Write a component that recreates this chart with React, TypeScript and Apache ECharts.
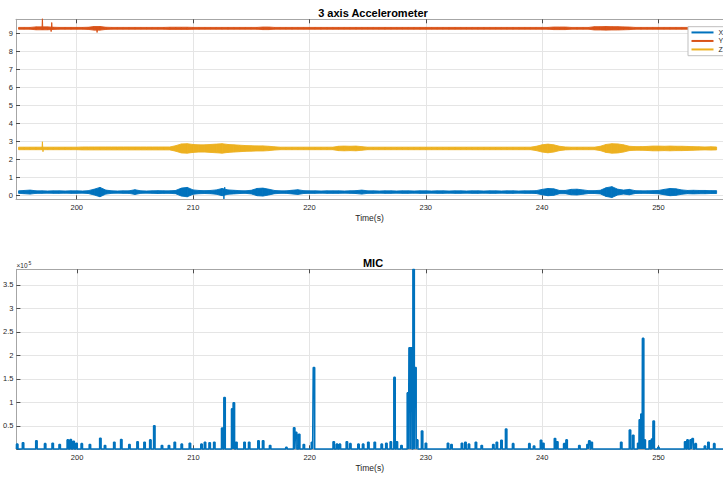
import React, { useEffect, useRef } from "react";
import * as echarts from "echarts";

// ---- data -------------------------------------------------------------
// Accelerometer: noise half-amplitude read every 0.5 s from 195.0 s to 255.0 s
const T0 = 195;
const DT = 0.5;
const X_BASE = 0.2;
const Y_BASE = 9.28;
const Z_BASE = 2.62;

const X_AMP = [
  0.07, 0.09, 0.11, 0.07, 0.07, 0.06, 0.07, 0.07, 0.06, 0.07,
  0.07, 0.06, 0.08, 0.16, 0.26, 0.11, 0.07, 0.06, 0.07, 0.07,
  0.13, 0.07, 0.06, 0.07, 0.08, 0.07, 0.07, 0.09, 0.22, 0.26,
  0.12, 0.09, 0.08, 0.09, 0.12, 0.2, 0.12, 0.1, 0.08, 0.07,
  0.1, 0.2, 0.22, 0.16, 0.09, 0.07, 0.07, 0.1, 0.13, 0.08,
  0.07, 0.07, 0.06, 0.07, 0.07, 0.07, 0.06, 0.07, 0.08, 0.11,
  0.07, 0.07, 0.06, 0.07, 0.07, 0.06, 0.07, 0.07, 0.06, 0.07,
  0.07, 0.06, 0.07, 0.07, 0.06, 0.07, 0.07, 0.06, 0.07, 0.07,
  0.06, 0.07, 0.07, 0.06, 0.07, 0.07, 0.06, 0.07, 0.07, 0.08,
  0.15, 0.2, 0.18, 0.09, 0.09, 0.15, 0.16, 0.12, 0.08, 0.08,
  0.1, 0.24, 0.3, 0.16, 0.11, 0.15, 0.08, 0.07, 0.07, 0.08,
  0.09, 0.15, 0.2, 0.18, 0.12, 0.09, 0.1, 0.09, 0.09, 0.08,
  0.08,
];

const Y_AMP = [
  0.05, 0.05, 0.05, 0.08, 0.08, 0.08, 0.06, 0.05, 0.05, 0.05,
  0.05, 0.05, 0.06, 0.1, 0.1, 0.06, 0.05, 0.05, 0.05, 0.05,
  0.05, 0.05, 0.05, 0.05, 0.05, 0.05, 0.06, 0.06, 0.06, 0.06,
  0.05, 0.05, 0.05, 0.05, 0.05, 0.05, 0.05, 0.05, 0.05, 0.05,
  0.05, 0.05, 0.07, 0.07, 0.05, 0.05, 0.05, 0.05, 0.05, 0.05,
  0.05, 0.05, 0.05, 0.05, 0.05, 0.05, 0.05, 0.05, 0.05, 0.05,
  0.05, 0.05, 0.05, 0.05, 0.05, 0.05, 0.05, 0.05, 0.05, 0.05,
  0.05, 0.05, 0.05, 0.05, 0.05, 0.05, 0.05, 0.05, 0.05, 0.05,
  0.05, 0.05, 0.05, 0.05, 0.05, 0.05, 0.05, 0.05, 0.05, 0.05,
  0.05, 0.05, 0.07, 0.07, 0.07, 0.05, 0.05, 0.05, 0.05, 0.09,
  0.09, 0.1, 0.09, 0.09, 0.08, 0.07, 0.05, 0.05, 0.05, 0.05,
  0.05, 0.05, 0.05, 0.05, 0.05, 0.05, 0.05, 0.05, 0.05, 0.05,
  0.05,
];

const Z_AMP = [
  0.07, 0.07, 0.07, 0.07, 0.07, 0.07, 0.07, 0.07, 0.07, 0.07,
  0.07, 0.08, 0.08, 0.08, 0.08, 0.08, 0.08, 0.08, 0.08, 0.08,
  0.08, 0.08, 0.08, 0.08, 0.08, 0.08, 0.08, 0.15, 0.25, 0.26,
  0.22, 0.2, 0.2, 0.22, 0.24, 0.26, 0.22, 0.2, 0.18, 0.16,
  0.15, 0.14, 0.14, 0.12, 0.09, 0.07, 0.07, 0.07, 0.07, 0.07,
  0.07, 0.07, 0.07, 0.07, 0.07, 0.12, 0.13, 0.12, 0.13, 0.1,
  0.07, 0.07, 0.07, 0.07, 0.07, 0.07, 0.07, 0.07, 0.07, 0.07,
  0.07, 0.07, 0.07, 0.07, 0.07, 0.07, 0.07, 0.07, 0.07, 0.07,
  0.07, 0.07, 0.07, 0.07, 0.07, 0.07, 0.07, 0.07, 0.07, 0.12,
  0.2, 0.24, 0.2, 0.12, 0.08, 0.07, 0.07, 0.07, 0.07, 0.07,
  0.12, 0.22, 0.26, 0.25, 0.2, 0.12, 0.1, 0.1, 0.11, 0.13,
  0.13, 0.12, 0.13, 0.12, 0.12, 0.11, 0.1, 0.09, 0.08, 0.09,
  0.08,
];

// isolated spikes [time, value]
const X_SPIKES = [[212.65, -0.18], [212.72, 0.47]];
const Y_SPIKES = [[197.05, 9.85], [197.1, 9.2], [197.8, 9.1], [197.85, 9.6], [201.75, 9.05]];
const Z_SPIKES = [[197.05, 2.99], [197.1, 2.44]];

// Microphone pulses (time in s, amplitude)
const MIC_T = [
  194.85, 195.35, 196.5, 197.25, 197.9, 198.5, 199.2, 199.45, 199.7, 199.95,
  200.4, 201.1, 202.0, 202.4, 203.2, 203.8, 204.5, 205.2, 205.8, 206.3,
  206.64, 207.3, 207.9, 208.4, 209.0, 209.7, 210.7, 211.0, 211.4, 211.8,
  212.48, 212.68, 213.34, 213.48, 213.7, 214.4, 214.8, 215.6, 216.0, 216.6,
  218.0, 218.67, 218.84, 219.1, 219.5, 220.2, 220.37, 222.07, 222.35, 222.6,
  223.2, 223.5, 224.2, 224.6, 225.05, 225.6, 226.2, 226.6, 226.98, 227.3,
  227.5, 227.9, 228.45, 228.6, 228.75, 228.94, 229.1, 229.25, 229.67, 230.0,
  231.9, 232.2, 233.1, 233.4, 233.7, 234.3, 234.8, 235.8, 236.1, 236.5,
  236.9, 237.5, 238.9, 239.3, 239.9, 240.1, 241.1, 241.3, 241.9, 242.1,
  243.2, 243.9, 244.06, 244.26, 246.8, 247.55, 247.83, 248.26, 248.4, 248.54,
  248.68, 248.82, 249.25, 249.45, 249.59, 250.0, 252.3, 252.5, 252.77, 252.94,
  253.2, 254.0, 254.3, 254.8,
];
const MIC_V = [
  11000, 14000, 18000, 12000, 13000, 10000, 20000, 21000, 17000, 13000,
  12000, 10000, 23500, 8000, 15000, 21000, 10000, 16000, 15000, 20000,
  50000, 8000, 8000, 15000, 11000, 13000, 11000, 15000, 14000, 15000,
  45000, 110000, 86000, 99000, 15000, 15000, 15000, 18000, 18000, 8000,
  4000, 46000, 36000, 32000, 10000, 15000, 174000, 16000, 11000, 11000,
  16000, 12000, 11000, 11000, 15000, 15000, 11000, 13000, 16000, 153000,
  16000, 8000, 120000, 216000, 216000, 383000, 174000, 20000, 39000, 13000,
  13000, 10000, 13000, 15000, 11000, 15000, 8000, 10000, 15000, 19000,
  43000, 12000, 12000, 7000, 19000, 13000, 23000, 16000, 12000, 20000,
  8000, 10000, 18000, 15000, 15000, 41000, 30000, 13000, 63000, 75000,
  236000, 20000, 18000, 22000, 60000, 4000, 16000, 20000, 20000, 23000,
  12000, 7000, 15000, 12000,
];
const MIC_BASE = 600;

const X_TICKS = [200, 210, 220, 230, 240, 250];
const ACC_TICKS = [0, 1, 2, 3, 4, 5, 6, 7, 8, 9];
const MIC_TICKS = [0, 50000, 100000, 150000, 200000, 250000, 300000, 350000];
const MIC_LABELS = [50000, 100000, 150000, 200000, 250000, 300000, 350000];
const LEGEND_NAMES = ["X", "Y", "Z"];

// ---- helpers ----------------------------------------------------------
// one quad per 0.5 s step: [t0, lo0, hi0, t1, lo1, hi1]
function quads(base: number, amp: number[]) {
  const out: number[][] = [];
  for (let i = 0; i < amp.length - 1; i++) {
    const t0 = T0 + i * DT;
    const t1 = t0 + DT;
    out.push([t0, base - amp[i], base + amp[i], t1, base - amp[i + 1], base + amp[i + 1]]);
  }
  return out;
}

function spikeLine(base: number, spikes: number[][]) {
  const pts: number[][] = [];
  spikes.forEach((s) => {
    pts.push([s[0] - 0.03, base], [s[0], s[1]], [s[0] + 0.03, base]);
  });
  return pts;
}

function pulses(times: number[], vals: number[], base: number, x0: number, x1: number) {
  const w = 0.06;
  const pts: number[][] = [[x0, base]];
  times.forEach((t, i) => {
    pts.push([t - w, base], [t - w, vals[i]], [t + w, vals[i]], [t + w, base]);
  });
  pts.push([x1, base]);
  return pts;
}

const FONT = "'Liberation Sans', Arial, Helvetica, sans-serif";
const X_MIN = 194.78;
const X_MAX = 255.55;
const AXIS_LINE = "#a6a6a6";
const TICK = "#4d4d4d";
const LABEL = "#262626";
const GRID = "#e5e5e5";
const C_X = "#0072BD";
const C_Y = "#D95319";
const C_Z = "#EDB120";

function bottomAxis(gridIndex: number) {
  return {
    type: "value",
    gridIndex,
    position: "bottom",
    min: X_MIN,
    max: X_MAX,
    name: "Time(s)",
    nameLocation: "middle",
    nameGap: 14,
    nameTextStyle: { fontSize: 8.5, color: LABEL, fontFamily: FONT },
    axisLine: { show: true, onZero: false, lineStyle: { color: AXIS_LINE, width: 1 } },
    axisTick: { show: true, inside: true, length: 4, customValues: X_TICKS, lineStyle: { color: TICK } },
    axisLabel: { customValues: X_TICKS, fontSize: 7.5, color: LABEL, margin: 4, fontFamily: FONT },
    splitLine: { show: true, lineStyle: { color: GRID, width: 1 } },
  };
}

function topAxis(gridIndex: number) {
  return {
    type: "value",
    gridIndex,
    position: "top",
    min: X_MIN,
    max: X_MAX,
    axisLine: { show: true, onZero: false, lineStyle: { color: AXIS_LINE, width: 1 } },
    axisTick: { show: true, inside: true, length: 4, customValues: X_TICKS, lineStyle: { color: TICK } },
    axisLabel: { show: false },
    splitLine: { show: false },
  };
}

function band(name: string, color: string, base: number, amp: number[], spikes: number[][]) {
  return [
    {
      name,
      type: "custom",
      xAxisIndex: 0,
      yAxisIndex: 0,
      silent: true,
      itemStyle: { color },
      data: quads(base, amp),
      renderItem: (_params: any, api: any) => {
        const a = api.coord([api.value(0), api.value(1)]);
        const b = api.coord([api.value(3), api.value(4)]);
        const c = api.coord([api.value(3), api.value(5)]);
        const d = api.coord([api.value(0), api.value(2)]);
        return {
          type: "polygon",
          shape: { points: [a, b, c, d] },
          style: { fill: color, stroke: color, lineWidth: 0.9 },
        };
      },
    },
    {
      name,
      type: "line",
      xAxisIndex: 0,
      yAxisIndex: 0,
      showSymbol: false,
      color,
      silent: true,
      lineStyle: { width: 1, color },
      data: spikeLine(base, spikes),
    },
  ];
}

export default function App() {
  const ref = useRef<HTMLDivElement>(null);

  useEffect(() => {
    if (!ref.current) return;
    const chart = echarts.init(ref.current, null, { renderer: "svg" });
    const option = {
      animation: false,
      backgroundColor: "#ffffff",
      textStyle: { fontFamily: FONT },
      grid: [
        { left: 16, right: -7, top: 19.3, height: 180 },
        { left: 16, right: -7, top: 269.3, height: 180 },
      ],
      xAxis: [bottomAxis(0), topAxis(0), bottomAxis(1), topAxis(1)],
      yAxis: [
        {
          type: "value",
          gridIndex: 0,
          min: -0.2,
          max: 9.78,
          axisLine: { show: true, onZero: false, lineStyle: { color: AXIS_LINE, width: 1 } },
          axisTick: { show: true, inside: true, length: 4, customValues: ACC_TICKS, lineStyle: { color: TICK } },
          axisLabel: { customValues: ACC_TICKS, fontSize: 7.5, color: LABEL, margin: 3, fontFamily: FONT },
          splitLine: { show: true, lineStyle: { color: GRID, width: 1 } },
        },
        {
          type: "value",
          gridIndex: 1,
          min: 0,
          max: 383000,
          axisLine: { show: true, onZero: false, lineStyle: { color: AXIS_LINE, width: 1 } },
          axisTick: { show: true, inside: true, length: 4, customValues: MIC_TICKS, lineStyle: { color: TICK } },
          axisLabel: {
            customValues: MIC_LABELS,
            fontSize: 7.5,
            color: LABEL,
            margin: 3,
            fontFamily: FONT,
            formatter: (v: number) => String(v / 100000),
          },
          splitLine: { show: true, lineStyle: { color: GRID, width: 1 } },
        },
      ],
      legend: {
        data: LEGEND_NAMES,
        orient: "vertical",
        left: 688,
        top: 26.7,
        icon: "rect",
        itemWidth: 22,
        itemHeight: 2,
        itemGap: 0,
        padding: [1.5, 20, 2, 3.5],
        backgroundColor: "#ffffff",
        borderColor: "#bfbfbf",
        borderWidth: 1,
        borderRadius: 0,
        textStyle: { fontSize: 7, lineHeight: 8.5, color: LABEL, fontFamily: FONT },
        selectedMode: false,
      },
      series: [
        ...band("X", C_X, X_BASE, X_AMP, X_SPIKES),
        ...band("Y", C_Y, Y_BASE, Y_AMP, Y_SPIKES),
        ...band("Z", C_Z, Z_BASE, Z_AMP, Z_SPIKES),
        {
          name: "MIC",
          type: "line",
          xAxisIndex: 2,
          yAxisIndex: 1,
          showSymbol: false,
          color: C_X,
          lineStyle: { width: 1.6, color: C_X },
          data: pulses(MIC_T, MIC_V, MIC_BASE, X_MIN, X_MAX),
          silent: true,
        },
      ],
      graphic: [
        {
          type: "text",
          x: 373,
          y: 12.7,
          style: {
            text: "3 axis Accelerometer",
            fontSize: 11,
            fontWeight: "bold",
            fontFamily: FONT,
            fill: "#000000",
            align: "center",
            verticalAlign: "middle",
          },
        },
        {
          type: "text",
          x: 373,
          y: 262.7,
          style: {
            text: "MIC",
            fontSize: 11,
            fontWeight: "bold",
            fontFamily: FONT,
            fill: "#000000",
            align: "center",
            verticalAlign: "middle",
          },
        },
        {
          type: "text",
          x: 16.5,
          y: 265.6,
          style: { text: "×10", fontSize: 6.5, fontFamily: FONT, fill: LABEL, verticalAlign: "middle" },
        },
        {
          type: "text",
          x: 28.6,
          y: 262.8,
          style: { text: "5", fontSize: 5, fontFamily: FONT, fill: LABEL, verticalAlign: "middle" },
        },
      ],
    };
    chart.setOption(option as any);
    return () => chart.dispose();
  }, []);

  return (
    <div
      ref={ref}
      style={{ position: "fixed", left: 0, top: 0, width: 723, height: 477, background: "#fff" }}
    />
  );
}
